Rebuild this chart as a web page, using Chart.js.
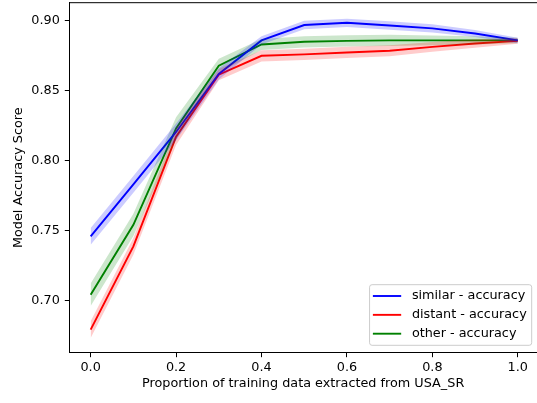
<!DOCTYPE html>
<html>
<head>
<meta charset="utf-8">
<script src="https://cdn.jsdelivr.net/npm/chart.js@4/dist/chart.umd.min.js"></script>
<style>
  html, body { margin: 0; padding: 0; background: #fff; overflow: hidden; }
  #wrap { width: 537px; height: 403px; position: relative; }
</style>
</head>
<body>
<div id="wrap"><canvas id="c" width="537" height="403"></canvas></div>
<script>
// ---- data ----
const proportions = [0.0, 0.1, 0.2, 0.3, 0.4, 0.5, 0.6, 0.7, 0.8, 0.9, 1.0];
const similarAcc = [0.7457, 0.783, 0.8205, 0.862, 0.886, 0.897, 0.8986, 0.8967, 0.8946, 0.891, 0.886];
const distantAcc = [0.679, 0.7386, 0.8171, 0.8615, 0.875, 0.876, 0.8774, 0.8786, 0.8814, 0.8838, 0.8857];
const otherAcc   = [0.704, 0.754, 0.823, 0.8679, 0.8831, 0.885, 0.8857, 0.886, 0.886, 0.886, 0.886];
const similarErr = [0.006, 0.006, 0.006, 0.004, 0.003, 0.003, 0.003, 0.003, 0.003, 0.0025, 0.002];
const distantErr = [0.006, 0.006, 0.006, 0.004, 0.004, 0.004, 0.004, 0.004, 0.0035, 0.003, 0.002];
const otherErr   = [0.008, 0.008, 0.008, 0.005, 0.004, 0.004, 0.004, 0.004, 0.0035, 0.003, 0.002];
const seriesLabels = ['similar - accuracy', 'distant - accuracy', 'other - accuracy'];
const xTickValues = [0.0, 0.2, 0.4, 0.6, 0.8, 1.0];
const yTickValues = [0.70, 0.75, 0.80, 0.85, 0.90];
const xTitle = 'Proportion of training data extracted from USA_SR';
const yTitle = 'Model Accuracy Score';

const FONT = 'DejaVu Sans';
const FS_TICK = 12.8;
const FS_TITLE = 12.8;
const FS_LEGEND = 12.8;

const series = [
  { label: seriesLabels[0], mean: similarAcc, err: similarErr, color: '#0000ff', band: 'rgba(0,0,255,0.2)' },
  { label: seriesLabels[1], mean: distantAcc, err: distantErr, color: '#ff0000', band: 'rgba(255,0,0,0.2)' },
  { label: seriesLabels[2], mean: otherAcc,   err: otherErr,   color: '#008000', band: 'rgba(0,128,0,0.2)' }
];

const pts = arr => proportions.map((x, i) => ({ x: x, y: arr[i] }));
const datasets = [];
series.forEach((s, k) => {
  datasets.push({
    label: s.label + ' lower', data: pts(s.mean.map((m, i) => m - s.err[i])),
    borderWidth: 0, pointRadius: 0, fill: false, borderColor: 'rgba(0,0,0,0)', order: 10 + k, isBand: true
  });
  datasets.push({
    label: s.label + ' upper', data: pts(s.mean.map((m, i) => m + s.err[i])),
    borderWidth: 0, pointRadius: 0, fill: '-1', backgroundColor: s.band, borderColor: 'rgba(0,0,0,0)', order: 10 + k, isBand: true
  });
  datasets.push({
    label: s.label, data: pts(s.mean), borderColor: s.color, backgroundColor: s.color,
    borderWidth: 1.9, pointRadius: 0, fill: false, tension: 0, order: 20 + k, isMain: true
  });
});

const framePlugin = {
  id: 'frame',
  afterDraw(chart) {
    const { ctx, chartArea: a } = chart;
    ctx.save();
    ctx.strokeStyle = '#000';
    ctx.lineWidth = 1;
    ctx.beginPath();
    ctx.moveTo(a.left, a.top);
    ctx.lineTo(a.right, a.top);
    ctx.stroke();
    ctx.restore();
  }
};

const legendPlugin = {
  id: 'mplLegend',
  afterDraw(chart) {
    const { ctx, chartArea: a } = chart;
    const mains = chart.data.datasets.filter(d => d.isMain);
    ctx.save();
    ctx.font = FS_LEGEND + 'px "' + FONT + '"';
    let tw = 0;
    mains.forEach(d => { tw = Math.max(tw, ctx.measureText(d.label).width); });
    const w = 42.3 + tw + 5;
    const h = 60.6;
    const right = a.right - 5.3;
    const bottom = a.bottom - 7.4;
    const left = right - w;
    const top = bottom - h;
    const r = 2.5;
    ctx.beginPath();
    ctx.moveTo(left + r, top);
    ctx.lineTo(right - r, top);
    ctx.arcTo(right, top, right, top + r, r);
    ctx.lineTo(right, bottom - r);
    ctx.arcTo(right, bottom, right - r, bottom, r);
    ctx.lineTo(left + r, bottom);
    ctx.arcTo(left, bottom, left, bottom - r, r);
    ctx.lineTo(left, top + r);
    ctx.arcTo(left, top, left + r, top, r);
    ctx.closePath();
    ctx.fillStyle = 'rgba(255,255,255,0.8)';
    ctx.fill();
    ctx.strokeStyle = '#cccccc';
    ctx.lineWidth = 1;
    ctx.stroke();
    mains.forEach((d, i) => {
      const y = top + 11.3 + i * 18.85;
      ctx.strokeStyle = d.borderColor;
      ctx.lineWidth = 1.9;
      ctx.beginPath();
      ctx.moveTo(left + 3.3, y);
      ctx.lineTo(left + 31.6, y);
      ctx.stroke();
      ctx.fillStyle = '#000';
      ctx.textBaseline = 'middle';
      ctx.textAlign = 'left';
      ctx.fillText(d.label, left + 42.3, y);
    });
    ctx.restore();
  }
};

new Chart(document.getElementById('c'), {
  type: 'line',
  data: { datasets: datasets },
  options: {
    responsive: false,
    animation: false,
    devicePixelRatio: 1,
    layout: { padding: { left: 0, top: 2.7, right: 0, bottom: 0 } },
    plugins: {
      legend: { display: false },
      tooltip: { enabled: false },
      filler: { propagate: false }
    },
    scales: {
      x: {
        type: 'linear', min: -0.05, max: 1.045,
        afterBuildTicks: s => { s.ticks = xTickValues.map(v => ({ value: v })); },
        afterFit: s => { s.height = 50.3; s.paddingLeft = 0; s.paddingRight = 0; },
        ticks: { color: '#000', font: { family: FONT, size: FS_TICK }, padding: 3,
                 callback: v => Number(v).toFixed(1), maxRotation: 0, autoSkip: false },
        grid: { drawOnChartArea: false, drawTicks: true, tickLength: 4.5, tickColor: '#000', tickWidth: 1 },
        border: { display: true, color: '#000', width: 1 },
        title: { display: true, text: xTitle, color: '#000', font: { family: FONT, size: FS_TITLE }, padding: { top: 0, bottom: 11.3 } }
      },
      y: {
        type: 'linear', min: 0.6625, max: 0.913,
        afterBuildTicks: s => { s.ticks = yTickValues.map(v => ({ value: v })); },
        afterFit: s => { s.width = 69.3; s.paddingTop = 0; s.paddingBottom = 0; },
        ticks: { color: '#000', font: { family: FONT, size: FS_TICK }, padding: 5,
                 callback: v => Number(v).toFixed(2), autoSkip: false },
        grid: { drawOnChartArea: false, drawTicks: true, tickLength: 4.5, tickColor: '#000', tickWidth: 1 },
        border: { display: true, color: '#000', width: 1 },
        title: { display: true, text: yTitle, color: '#000', font: { family: FONT, size: FS_TITLE }, padding: { top: 11, bottom: 0 } }
      }
    }
  },
  plugins: [framePlugin, legendPlugin]
});
</script>
</body>
</html>
